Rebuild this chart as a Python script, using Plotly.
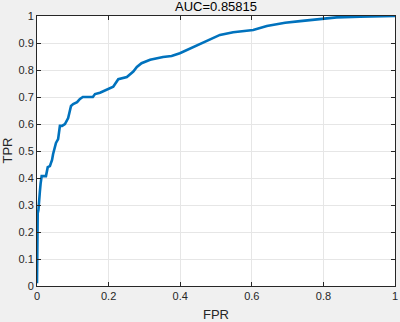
import plotly.graph_objects as go

fpr = [0, 0.000, 0.001, 0.002, 0.004, 0.005, 0.006, 0.008, 0.010, 0.013, 0.025, 0.027, 0.030,
       0.036, 0.042, 0.045, 0.050, 0.053, 0.059, 0.061, 0.064, 0.070, 0.078, 0.087, 0.089,
       0.095, 0.101, 0.112, 0.120, 0.128, 0.156, 0.162, 0.176, 0.195, 0.213, 0.227, 0.251,
       0.269, 0.279, 0.292, 0.316, 0.352, 0.376, 0.399, 0.455, 0.483, 0.511, 0.548, 0.604,
       0.642, 0.693, 0.735, 0.800, 0.837, 0.902, 1.0]
tpr = [0.01, 0.015, 0.17, 0.270, 0.281, 0.307, 0.343, 0.349, 0.378, 0.407, 0.407, 0.423, 0.440,
       0.444, 0.467, 0.489, 0.511, 0.530, 0.544, 0.567, 0.593, 0.593, 0.600, 0.622, 0.633,
       0.667, 0.674, 0.681, 0.693, 0.700, 0.700, 0.711, 0.716, 0.728, 0.738, 0.766, 0.774,
       0.794, 0.811, 0.825, 0.838, 0.848, 0.852, 0.862, 0.895, 0.911, 0.930, 0.940, 0.948,
       0.963, 0.975, 0.981, 0.989, 0.995, 0.997, 1.0]

title_text = "AUC=0.85815"
x_title = "FPR"
y_title = "TPR"
x_ticks = [0, 0.2, 0.4, 0.6, 0.8, 1]
x_tick_labels = ["0", "0.2", "0.4", "0.6", "0.8", "1"]
y_ticks = [0, 0.1, 0.2, 0.3, 0.4, 0.5, 0.6, 0.7, 0.8, 0.9, 1]
y_tick_labels = ["0", "0.1", "0.2", "0.3", "0.4", "0.5", "0.6", "0.7", "0.8", "0.9", "1"]

FONT = "Liberation Sans, Arial, sans-serif"

fig = go.Figure()
fig.add_trace(go.Scatter(x=fpr, y=tpr, mode="lines",
                         line=dict(color="#0072BD", width=2.6), showlegend=False))

axis_common = dict(
    range=[0, 1], showgrid=True, gridcolor="#e6e6e6", gridwidth=1,
    showline=True, linecolor="#262626", linewidth=1, mirror="ticks",
    ticks="inside", ticklen=4, tickcolor="#262626", zeroline=False,
    automargin=False,
    tickfont=dict(family=FONT, size=11, color="#262626"),
)

fig.update_layout(
    width=400, height=322,
    margin=dict(l=37, r=5, t=16, b=36, autoexpand=False),
    paper_bgcolor="#f0f0f0", plot_bgcolor="white",
    xaxis=dict(**axis_common, tickvals=x_ticks, ticktext=x_tick_labels),
    yaxis=dict(**axis_common, tickvals=y_ticks, ticktext=y_tick_labels),
    annotations=[
        dict(text=title_text, xref="paper", yref="paper", x=0.5, y=1.0, yshift=0,
             xanchor="center", yanchor="bottom", showarrow=False,
             font=dict(family=FONT, size=13, color="#000000")),
        dict(text=x_title, xref="paper", yref="paper", x=0.5, y=0, yshift=-19,
             xanchor="center", yanchor="top", showarrow=False,
             font=dict(family=FONT, size=13, color="#262626")),
        dict(text=y_title, xref="paper", yref="paper", x=0, y=0.5, xshift=-21,
             xanchor="right", yanchor="middle", textangle=-90, showarrow=False,
             font=dict(family=FONT, size=13, color="#262626")),
    ],
)

fig.write_html("out.html", config={"displayModeBar": False},
               post_script="document.body.style.margin='0';")
